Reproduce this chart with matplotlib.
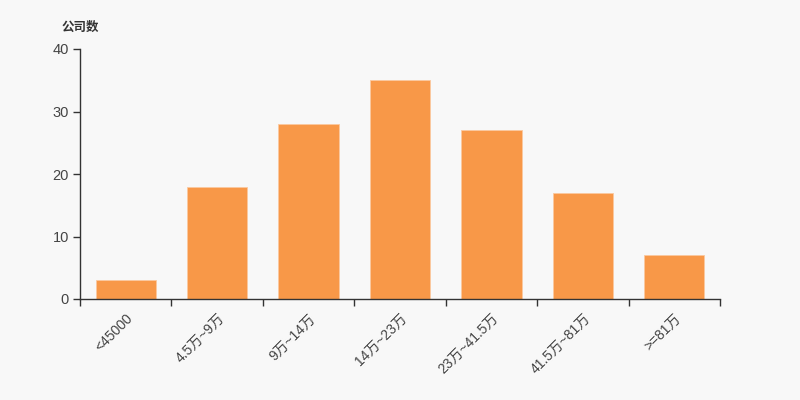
import matplotlib
matplotlib.use("Agg")
import matplotlib.pyplot as plt
import numpy as np

plt.rcParams['font.family'] = ['Liberation Sans', 'Noto Sans CJK SC', 'DejaVu Sans']

categories = ["<45000", "4.5万~9万", "9万~14万", "14万~23万", "23万~41.5万", "41.5万~81万", ">=81万"]
values = [3, 18, 28, 35, 27, 17, 7]
y_ticks = [0, 10, 20, 30, 40]

bg = "#f8f8f8"
fig = plt.figure(figsize=(8, 4), dpi=100, facecolor=bg)
ax = fig.add_axes([0.1, 0.2525, 0.8, 0.625], facecolor=bg)

x = np.arange(len(categories))
ax.bar(x, values, width=0.66, color="#f89848", edgecolor="#fbc9a0", linewidth=0.6)

ax.set_xlim(-0.5, len(categories) - 0.5)
ax.set_ylim(0, 40)
ax.set_yticks(y_ticks)
ax.set_yticklabels([str(v) for v in y_ticks], fontsize=10.5, color="#444444")

ax.set_xticks(x)
ax.set_xticklabels(categories, rotation=45, ha="right", rotation_mode="anchor",
                   fontsize=10, color="#444444")
ax.tick_params(axis="x", which="major", length=0, pad=9)
ax.set_xticks(np.arange(-0.5, len(categories)), minor=True)
ax.tick_params(axis="x", which="minor", length=5, color="#333333", width=1)
ax.tick_params(axis="y", length=5, color="#333333", width=1, pad=3)

for s in ["top", "right"]:
    ax.spines[s].set_visible(False)
for s in ["left", "bottom"]:
    ax.spines[s].set_color("#333333")
    ax.spines[s].set_linewidth(1)

fig.text(0.0775, 0.932, "公司数", fontsize=9, fontweight="bold", color="#333333",
         ha="left", va="center", family=['Noto Sans CJK SC', 'DejaVu Sans'])

fig.savefig("out.png", dpi=100, facecolor=bg)
